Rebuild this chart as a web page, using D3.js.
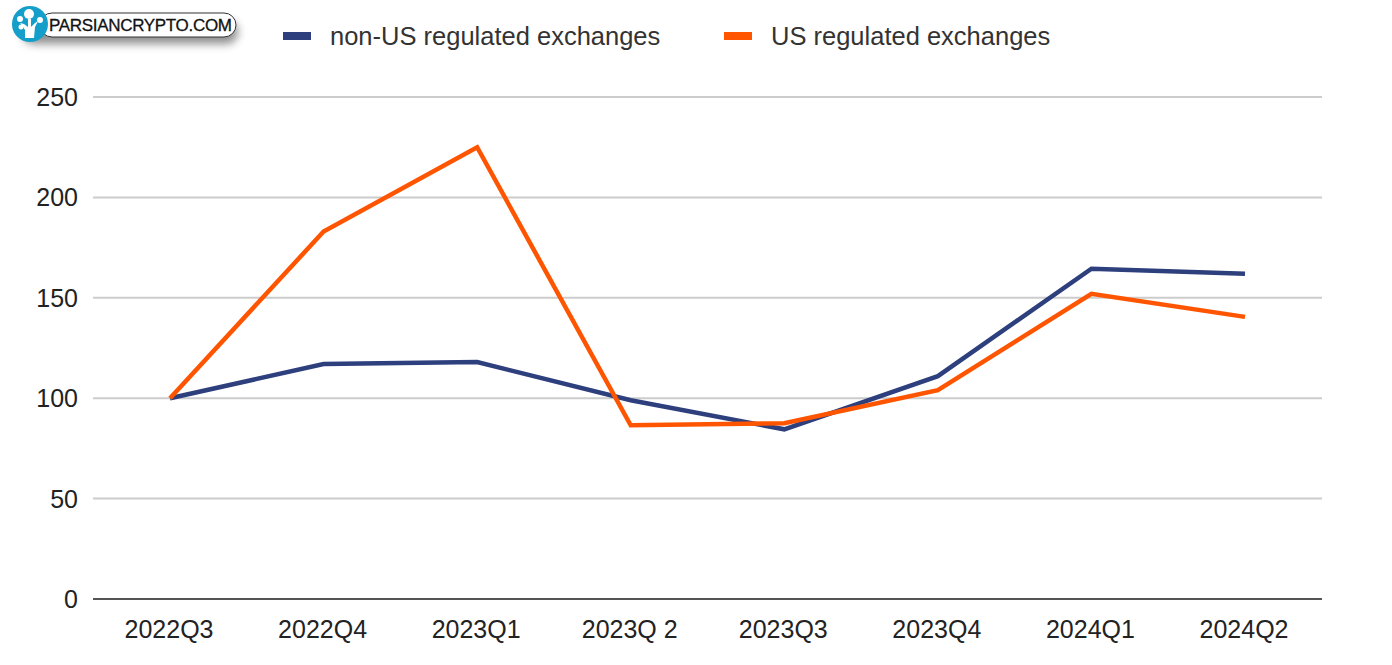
<!DOCTYPE html>
<html><head><meta charset="utf-8">
<script src="https://cdnjs.cloudflare.com/ajax/libs/d3/7.8.5/d3.min.js"></script>
<style>html,body{margin:0;padding:0;background:#fff;overflow:hidden}svg{display:block}text{font-family:"Liberation Sans",Arial,sans-serif}</style>
</head><body><svg id="c" width="1392" height="665"></svg>
<script>
const categories=["2022Q3","2022Q4","2023Q1","2023Q 2","2023Q3","2023Q4","2024Q1","2024Q2"];
const nonUS=[100,117,118,99,84.5,111,164.5,162];
const US=[100,183,225,86.5,87.5,104,152,140.5];
const yTicks=[0,50,100,150,200,250];
const seriesNames=["non-US regulated exchanges","US regulated exchanges"];
const colors=["#2d3f7c","#ff5500"];
const svg=d3.select("#c");
const x=d3.scalePoint().domain(categories).range([170,1245]);
const y=d3.scaleLinear().domain([0,250]).range([599,97]);
const g=svg.append("g");
yTicks.filter(d=>d>0).forEach(d=>g.append("line").attr("x1",93).attr("x2",1322).attr("y1",y(d)).attr("y2",y(d)).attr("stroke","#cccccc").attr("stroke-width",2));
g.append("line").attr("x1",93).attr("x2",1322).attr("y1",y(0)).attr("y2",y(0)).attr("stroke","#555555").attr("stroke-width",2);
yTicks.forEach(d=>g.append("text").attr("x",78).attr("y",y(d)+9).attr("text-anchor","end").attr("font-size",25).attr("fill","#222").text(d));
categories.forEach(c=>g.append("text").attr("x",x(c)-1).attr("y",638).attr("text-anchor","middle").attr("font-size",25).attr("fill","#222").text(c));
const line=d3.line().x((d,i)=>x(categories[i])).y(d=>y(d));
[nonUS,US].forEach((s,i)=>g.append("path").attr("d",line(s)).attr("fill","none").attr("stroke",colors[i]).attr("stroke-width",4.5).attr("stroke-linejoin","miter"));
// legend
[[283,330],[724,771]].forEach(([a,b],i)=>{
 g.append("rect").attr("x",a).attr("y",32).attr("width",28).attr("height",8).attr("fill",colors[i]);
 g.append("text").attr("x",b).attr("y",45).attr("font-size",25.5).attr("fill","#333").text(seriesNames[i]);
});
// logo
const defs=svg.append("defs");
const f=defs.append("filter").attr("id","sh").attr("x","-20%").attr("y","-50%").attr("width","140%").attr("height","250%");
f.append("feGaussianBlur").attr("stdDeviation",4);
const l=svg.append("g");
l.append("rect").attr("x",22).attr("y",20).attr("width",216).attr("height",24).attr("rx",12).attr("fill","#555").attr("opacity",.65).attr("filter","url(#sh)");
l.append("rect").attr("x",40).attr("y",13).attr("width",196).attr("height",24).attr("rx",12).attr("fill","#fff").attr("stroke","#333").attr("stroke-width",1);
l.append("circle").attr("cx",30).attr("cy",24).attr("r",18).attr("fill","#149fca");
l.append("path").attr("d","M25 38 L25 30 Q22 25 20 23 L24 24 L28 27 L28 19 L31 19 L31 27 L35 23 L38 21 L35 27 L34 38 Z").attr("fill","#fff");
[[29,14,5],[20,19,3],[40,20,3],[21,27,2.5]].forEach(([a,b,r])=>l.append("circle").attr("cx",a).attr("cy",b).attr("r",r).attr("fill","#fff"));
l.append("text").attr("x",49).attr("y",31).attr("font-size",17).attr("font-weight",400).attr("fill","#111").attr("textLength",183).attr("stroke","#111").attr("stroke-width",.3).text("PARSIANCRYPTO.COM");
</script></body></html>
